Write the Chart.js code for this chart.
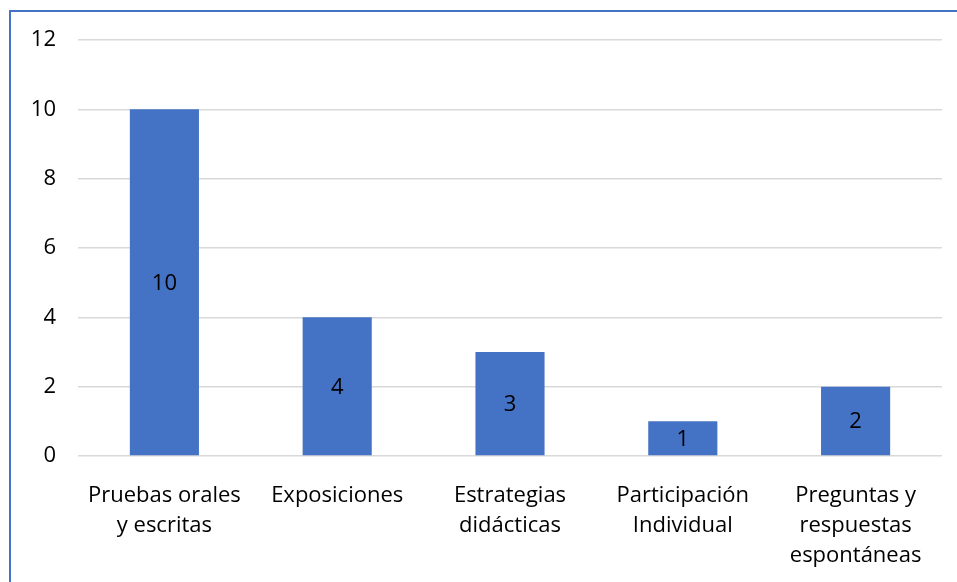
<!DOCTYPE html>
<html>
<head>
<meta charset="utf-8">
<script src="https://cdn.jsdelivr.net/npm/chart.js@4/dist/chart.umd.min.js"></script>
<style>
  html, body { margin: 0; padding: 0; background: #fff; }
  #wrap { position: relative; width: 957px; height: 582px; overflow: hidden; }
  #frame {
    position: absolute; left: 9px; top: 10px; right: -5px; bottom: -5px;
    border-left: 2px solid #4472C4; border-top: 2px solid #4472C4;
  }
  canvas { position: absolute; left: 0; top: 0; }
</style>
</head>
<body>
<div id="wrap">
  <div id="frame"></div>
  <canvas id="chart" width="957" height="582"></canvas>
</div>
<script>
// categories, values and axis ticks
const categories = [
  ['Pruebas orales', 'y escritas'],
  ['Exposiciones'],
  ['Estrategias', 'didácticas'],
  ['Participación', 'Individual'],
  ['Preguntas y', 'respuestas', 'espontáneas']
];
const counts = [10, 4, 3, 1, 2];
const yTicks = [0, 2, 4, 6, 8, 10, 12];

const FONT = '"Open Sans", "Liberation Sans", sans-serif';
const SIZE = 22;

// value labels drawn in the middle of each bar
const centerLabels = {
    id: 'centerLabels',
    afterDatasetsDraw(chart) {
        const ctx = chart.ctx;
        const meta = chart.getDatasetMeta(0);
        ctx.save();
        ctx.font = SIZE + 'px ' + FONT;
        ctx.fillStyle = '#000';
        ctx.textAlign = 'center';
        ctx.textBaseline = 'middle';
        meta.data.forEach((bar, i) => {
            const y = (bar.y + bar.base) / 2;
            ctx.fillText(String(counts[i]), bar.x, y + 1);
        });
        ctx.restore();
    }
};

new Chart(document.getElementById('chart'), {
    type: 'bar',
    data: {
        labels: categories,
        datasets: [{
            data: counts,
            backgroundColor: '#4472C4',
            borderWidth: 0,
            categoryPercentage: 0.4,
            barPercentage: 1
        }]
    },
    options: {
        responsive: false,
        animation: false,
        layout: { padding: { left: 0, right: 15, top: 40, bottom: 0 } },
        plugins: {
            legend: { display: false },
            tooltip: { enabled: false }
        },
        scales: {
            y: {
                min: 0,
                max: 12,
                afterBuildTicks(axis) {
                    axis.ticks = yTicks.map(v => ({ value: v }));
                },
                afterFit(axis) { axis.width = 78; },
                border: { display: false },
                grid: { color: '#D9D9D9', lineWidth: 1.5, drawTicks: false },
                ticks: {
                    padding: 22,
                    color: '#000',
                    font: { family: FONT, size: SIZE }
                }
            },
            x: {
                afterFit(axis) { axis.height = 126; },
                border: { display: false },
                grid: { display: false },
                ticks: {
                    padding: 17,
                    maxRotation: 0,
                    autoSkip: false,
                    color: '#000',
                    font: { family: FONT, size: SIZE, lineHeight: 30 / SIZE }
                }
            }
        }
    },
    plugins: [centerLabels]
});
</script>
</body>
</html>
